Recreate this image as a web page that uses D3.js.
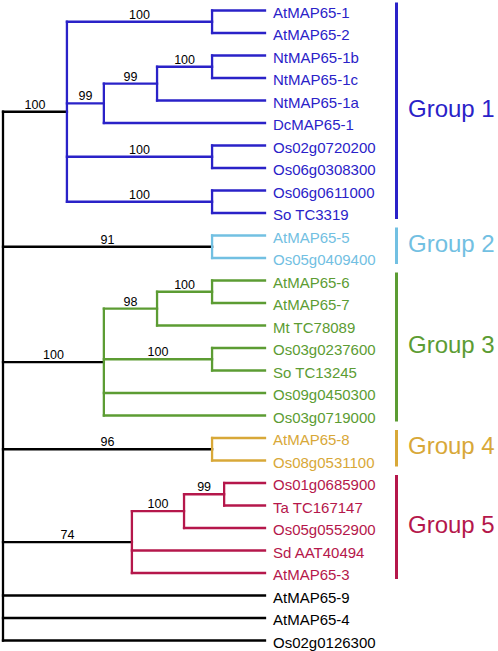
<!DOCTYPE html>
<html>
<head>
<meta charset="utf-8">
<script src="https://cdn.jsdelivr.net/npm/d3@7"></script>
<style>
html,body{margin:0;padding:0;background:#fff;}
svg{display:block;font-family:"Liberation Sans",Arial,Helvetica,sans-serif;}
</style>
</head>
<body>
<svg id="chart" width="498" height="651"></svg>
<script>
// ---- DATA ----
const leaves = ["AtMAP65-1","AtMAP65-2","NtMAP65-1b","NtMAP65-1c","NtMAP65-1a","DcMAP65-1",
  "Os02g0720200","Os06g0308300","Os06g0611000","So TC3319",
  "AtMAP65-5","Os05g0409400",
  "AtMAP65-6","AtMAP65-7","Mt TC78089","Os03g0237600","So TC13245","Os09g0450300","Os03g0719000",
  "AtMAP65-8","Os08g0531100",
  "Os01g0685900","Ta TC167147","Os05g0552900","Sd AAT40494","AtMAP65-3",
  "AtMAP65-9","AtMAP65-4","Os02g0126300"];
const leafParents = ["G1a","G1a","G1d","G1d","G1c","G1b","G1e","G1e","G1f","G1f",
  "G2","G2",
  "G3b","G3b","G3a","G3c","G3c","G3","G3",
  "G4","G4",
  "G5b","G5b","G5a","G5","G5",
  "root","root","root"];
// internal nodes
const nodeIds      = ["root","G1","G1a","G1b","G1c","G1d","G1e","G1f","G2","G3","G3a","G3b","G3c","G4","G5","G5a","G5b"];
const nodeParents  = [null,"root","G1","G1","G1b","G1c","G1","G1","root","root","G3","G3a","G3","root","root","G5","G5a"];
const nodeDistance = [0,24.4,79.8,38.5,58.8,79.8,79.8,79.8,79.8,38.5,58.8,79.8,79.8,79.8,49.2,69.1,84.4];
const nodeSupport  = [null,100,100,99,99,100,100,100,91,100,98,100,100,96,74,100,99];
const nodeGroup    = [0,1,1,1,1,1,1,1,2,3,3,3,3,4,5,5,5];
const groupNames   = ["","Group 1","Group 2","Group 3","Group 4","Group 5"];
const groupColors  = ["#000000","#2a22c8","#72c0e2","#5c9c33","#d8a838","#b5174b"];

// ---- BUILD TREE ----
const rows = nodeIds.map((id,i)=>({id, parent:nodeParents[i], dist:nodeDistance[i], support:nodeSupport[i], group:nodeGroup[i], leafIndex:-1}))
  .concat(leaves.map((name,i)=>({id:name, parent:leafParents[i], dist:100, support:null, group:null, leafIndex:i})));
const root = d3.stratify().id(d=>d.id).parentId(d=>d.parent)(rows);

const x = d3.scaleLinear().domain([0,100]).range([3,265]);
const y = d3.scaleLinear().domain([0,leaves.length-1]).range([10.5,640.5]);

// leaf groups inherit from parent
root.each(d=>{ if(d.data.group===null) d.data.group = d.parent ? d.parent.data.group : 0; });
// y positions
root.eachAfter(d=>{
  if(!d.children){ d.py = y(d.data.leafIndex); }
  else { const ys = d.children.map(c=>c.py); d.py = (d3.min(ys)+d3.max(ys))/2; }
  d.px = x(d.data.dist);
});

const svg = d3.select("#chart");
const lw = 2.3;
const g = svg.append("g");

// horizontal edges (colored by parent group)
root.descendants().filter(d=>d.parent).forEach(d=>{
  g.append("line")
    .attr("x1",d.parent.px).attr("x2",d.px)
    .attr("y1",d.py).attr("y2",d.py)
    .attr("stroke",groupColors[d.parent.data.group]).attr("stroke-width",lw)
    .attr("stroke-linecap","square");
});
// vertical connectors
root.descendants().filter(d=>d.children).forEach(d=>{
  const ys = d.children.map(c=>c.py);
  g.append("line")
    .attr("x1",d.px).attr("x2",d.px)
    .attr("y1",d3.min(ys)).attr("y2",d3.max(ys))
    .attr("stroke",groupColors[d.data.group]).attr("stroke-width",lw)
    .attr("stroke-linecap","square");
});
// support values
root.descendants().filter(d=>d.data.support!=null).forEach(d=>{
  g.append("text")
    .attr("x",(d.parent.px+d.px)/2).attr("y",d.py-3)
    .attr("text-anchor","middle").attr("font-size",12.5).attr("fill","#000")
    .text(d.data.support);
});
// leaf labels
root.leaves().forEach(d=>{
  g.append("text")
    .attr("x",273).attr("y",d.py+7.4)
    .attr("font-size",15).attr("fill",groupColors[d.data.group])
    .text(d.data.id);
});
// group bars and labels
for(let k=1;k<groupNames.length;k++){
  const ls = root.leaves().filter(d=>d.data.group===k).map(d=>d.py);
  const top = d3.min(ls)-8, bot = d3.max(ls)+6;
  g.append("rect").attr("x",395).attr("y",top).attr("width",3).attr("height",bot-top)
    .attr("fill",groupColors[k]);
  g.append("text").attr("x",408).attr("y",(top+bot)/2+6)
    .attr("font-size",24).attr("fill",groupColors[k]).text(groupNames[k]);
}
</script>
</body>
</html>
